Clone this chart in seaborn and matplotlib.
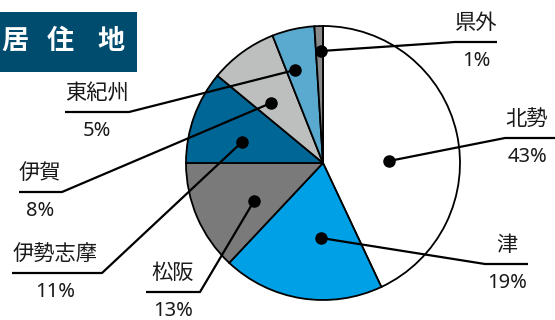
import matplotlib
matplotlib.use("Agg")
import matplotlib.pyplot as plt
import seaborn as sns
from matplotlib.patches import Rectangle

categories = ["北勢", "津", "松阪", "伊勢志摩", "伊賀", "東紀州", "県外"]
values = [43, 19, 13, 11, 8, 5, 1]
pct_labels = ["43%", "19%", "13%", "11%", "8%", "5%", "1%"]
colors = ["#ffffff", "#00a0e6", "#7a7a7a", "#006696", "#bdbfbf", "#5aaad0", "#8a8a8a"]
title_chars = ["居", "住", "地"]

# layout of leader lines in pixel coords (x, y from top): dot, kink, end, text-center x
dots = [(389, 161), (321, 238), (254, 201), (242, 142), (271, 103), (295, 70), (321, 51)]
kinks = [(505, 138), (485, 264), (200, 292), (102, 273), (62, 192), (129, 112), (455, 42)]
ends = [(560, 138), (528, 264), (146, 292), (12, 273), (19, 192), (65, 112), (497, 42)]
text_x = [527, 507, 173, 55, 40, 97, 476]

sns.set_theme(style="white")
plt.rcParams["font.family"] = ["Noto Sans", "Noto Sans CJK JP", "DejaVu Sans"]

W, H = 555, 320
fig = plt.figure(figsize=(W / 100, H / 100), dpi=100)
ax = fig.add_axes([0, 0, 1, 1])

def Y(y):
    return H - y

cx, cy, R = 323, 163, 137
ax.pie(values, colors=colors, startangle=90, counterclock=False,
       center=(cx, Y(cy)), radius=R, frame=True,
       wedgeprops=dict(edgecolor="black", linewidth=1.3))

for i, cat in enumerate(categories):
    d, k, e = dots[i], kinks[i], ends[i]
    ax.plot([d[0], k[0], e[0]], [Y(d[1]), Y(k[1]), Y(e[1])], color="black",
            lw=1.6, solid_capstyle="butt", zorder=5)
    ax.plot([d[0]], [Y(d[1])], "o", color="black", ms=8, zorder=6)
    ax.text(text_x[i], Y(k[1] - 19), cat, ha="center", va="center", fontsize=15.3,
            color="#1a1a1a", family=["Noto Sans CJK JP", "DejaVu Sans"])
    ax.text(text_x[i], Y(k[1] + 19), pct_labels[i], ha="center", va="center", fontsize=14.5,
            color="#1a1a1a")

# title box
ax.add_patch(Rectangle((0, Y(72)), 137, 60, facecolor="#004c6e", edgecolor="none", zorder=7))
for ch, x in zip(title_chars, [15, 60, 111]):
    ax.text(x, Y(41), ch, ha="center", va="center", fontsize=19.5, fontweight="bold",
            color="white", zorder=8, family=["Noto Sans CJK JP", "DejaVu Sans"])

ax.set_xlim(0, W)
ax.set_ylim(0, H)
ax.set_aspect("equal")
ax.set_axis_off()
fig.savefig("out.png", dpi=100)
